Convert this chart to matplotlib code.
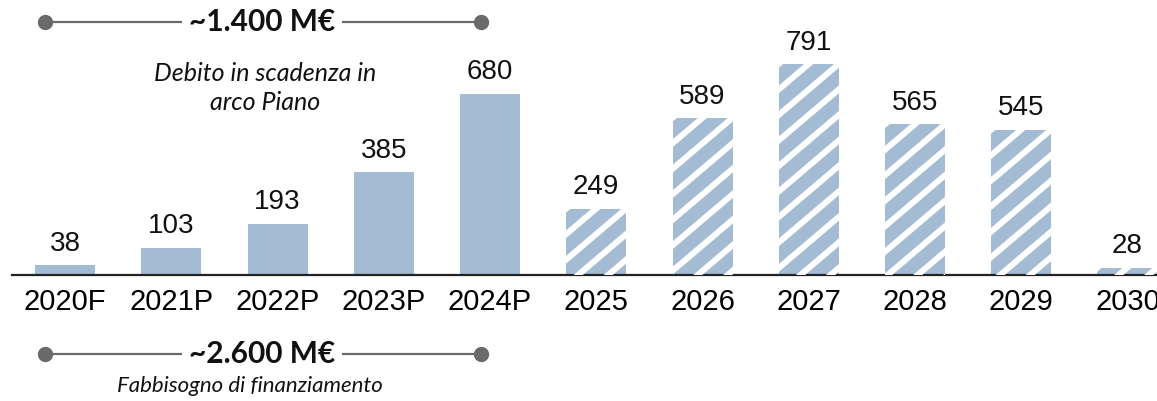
import numpy as np
import matplotlib
matplotlib.use("Agg")
import matplotlib.pyplot as plt
from matplotlib.lines import Line2D
from matplotlib.transforms import IdentityTransform

# ---- data ----
categories = ["2020F", "2021P", "2022P", "2023P", "2024P",
              "2025", "2026", "2027", "2028", "2029", "2030"]
values = [38, 103, 193, 385, 680, 249, 589, 791, 565, 545, 28]
hatched = [False, False, False, False, False, True, True, True, True, True, True]

top_total = "~1.400 M€"
top_caption = "Debito in scadenza in\narco Piano"
bottom_total = "~2.600 M€"
bottom_caption = "Fabbisogno di finanziamento"

# ---- style ----
BAR = "#a4bbd4"
GREY = "#6a6a6a"
W, H = 1157, 401
fig = plt.figure(figsize=(W / 100, H / 100), dpi=100)

ax = fig.add_axes([12 / W, 126 / H, 1 - 12 / W, 266.8 / H])
ax.set_xlim(-0.5, 10.278)
ax.set_ylim(0, 1000)
for s in ["top", "right", "left"]:
    ax.spines[s].set_visible(False)
ax.spines["bottom"].set_color("#222222")
ax.spines["bottom"].set_linewidth(1.6)
ax.set_yticks([])
x = np.arange(len(categories))
ax.set_xticks(x)
ax.set_xticklabels(categories, fontsize=21, family="Liberation Sans")
ax.tick_params(axis="x", length=0, pad=9)

bars = ax.bar(x, values, width=0.565, color=BAR, linewidth=0, zorder=2)

for b, v in zip(bars, values):
    ax.annotate(str(v), (b.get_x() + b.get_width() / 2, v),
                xytext=(0, 6), textcoords="offset points",
                ha="center", va="bottom", fontsize=20,
                family="Liberation Sans", color="#111111")

# diagonal white stripes on the hatched bars (drawn in pixel space, clipped to the bar)
slope = 0.85
period = 30.0
for b, h in zip(bars, hatched):
    if not h:
        continue
    (x0, y0), (x1, y1) = ax.transData.transform(
        [(b.get_x(), 0), (b.get_x() + b.get_width(), b.get_height())])
    span = (y1 - y0) / slope + (x1 - x0)
    offs = np.arange(x0 - (y1 - y0) / slope - period, x1 + period, period)
    for c in offs:
        xs = np.array([c - 20, c + span + 20])
        ys = y0 + slope * (xs - c)
        ln = Line2D(xs, ys, transform=IdentityTransform(), color="white",
                    linewidth=4.3, solid_capstyle="butt", zorder=3)
        ax.add_artist(ln)
        ln.set_clip_path(b)


def fx(px):
    return px / W


def fy(py):
    return 1 - py / H


def bracket(y, label):
    fig.add_artist(Line2D([fx(45), fx(481)], [fy(y), fy(y)], transform=fig.transFigure,
                          color=GREY, linewidth=1.6, marker="o", markersize=10,
                          markevery=[0, 1], zorder=1))
    fig.text(fx(262), fy(y), label, ha="center", va="center", fontsize=21.5,
             family="Lato", weight="bold", color="#111111", zorder=2,
             bbox=dict(facecolor="white", edgecolor="none", pad=5))


bracket(22, top_total)
fig.text(fx(265), fy(88), top_caption, ha="center", va="center", fontsize=18,
         family="Lato", style="italic", color="#111111", linespacing=1.3)
bracket(354, bottom_total)
fig.text(fx(250), fy(386), bottom_caption, ha="center", va="center", fontsize=16,
         family="Lato", style="italic", color="#111111")

fig.savefig("out.png", dpi=100)
